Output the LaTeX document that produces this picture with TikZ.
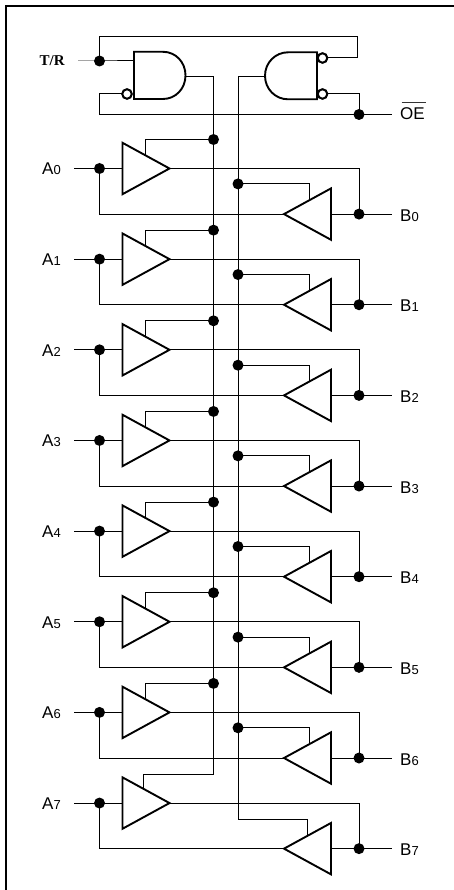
\documentclass[tikz,border=0pt]{standalone}
\usepackage{fontspec}
\setmainfont{Liberation Sans}
\newfontfamily\serifbold[BoldFont={Liberation Serif Bold}]{Liberation Serif}
\tikzset{
  wire/.style={line width=1pt,black,line join=miter},
  gateline/.style={line width=1.9pt,black,line join=miter},
  bordline/.style={line width=2.8pt,black},
  junction/.style={circle,fill=black,inner sep=0pt,minimum size=11pt},
  bubble/.style={circle,draw=black,fill=white,line width=1.9pt,inner sep=0pt,minimum size=9.4pt},
  lab/.style={anchor=base west,inner sep=0pt,font=\fontsize{17}{17}\selectfont},
}
\newcommand{\pinlabel}[2]{#1{\fontsize{13}{13}\selectfont #2}}
\begin{document}
\begin{tikzpicture}[x=1pt,y=-1pt]
\useasboundingbox (0,0) rectangle (454,890);
\draw[bordline] (6,890) -- (6,6) -- (454,6);

% control section
\coordinate (trin) at (78,61);
\node[junction] (trdot) at (99.5,61) {};
\coordinate (loopa) at (99.5,37);
\coordinate (loopb) at (357.5,37);
\node[junction] (oedot) at (359,114.5) {};
\coordinate (oeend) at (392,114.5);
\coordinate (oeleft) at (99.5,114.5);
\coordinate (ga) at (134,61);
\coordinate (gaout) at (185,77);
\coordinate (gbout) at (265,77);
\coordinate (ena) at (213.5,77);
\coordinate (enb) at (238,77);
\node[bubble] (bua) at (127,94) {};
\node[bubble] (bub) at (322.5,58) {};
\node[bubble] (buc) at (322.5,94) {};

\draw[wire] (trin) -- (trdot.center) -- (ga);
\draw[wire] (trdot.center) -- (loopa) -- (loopb) |- (bub.center);
\draw[wire] (bua.center) -| (oeleft) -- (oedot.center) -- (oeend);
\draw[wire] (buc.center) -| (oedot.center);
\draw[wire] (gaout) -- (ena);
\draw[wire] (gbout) -- (enb);

\draw[gateline,fill=white] (134,51.8) -- (163,51.8) .. controls (175.5,51.8) and (185.5,62) .. (185.5,75.4)
   .. controls (185.5,88.8) and (175.5,99) .. (163,99) -- (134,99) -- cycle;
\draw[gateline,fill=white] (317,52.3) -- (288,52.3) .. controls (275.5,52.3) and (265,62.5) .. (265,75.8)
   .. controls (265,89.1) and (275.5,99.3) .. (288,99.3) -- (317,99.3) -- cycle;
\node[bubble] at (bua) {};
\node[bubble] at (bub) {};
\node[bubble] at (buc) {};

\node[anchor=base west,inner sep=0pt,font=\serifbold\bfseries\fontsize{15}{15}\selectfont] (trlabel) at (39.5,66) {T/R};
\node[lab] (oelabel) at (400,120) {OE};
\coordinate (ola) at (401.7,102.3);
\coordinate (olb) at (425.7,102.3);
\draw[line width=0.9pt,black!80] (ola) -- (olb);

% channels
\foreach \i [evaluate=\i as \yy using {168.5+90.65*\i}] in {0,...,7}{
  \coordinate (Ain\i) at (74,\yy);
  \node[junction] (Adot\i) at (99.5,\yy) {};
  \coordinate (Ubase\i) at (122.5,\yy);
  \coordinate (Utip\i) at (169.5,\yy);
  \coordinate (Rcorner\i) at (359,\yy);
  \node[junction] (Bdot\i) at (359,\yy+45.6) {};
  \coordinate (Bout\i) at (392,\yy+45.6);
  \coordinate (Lbase\i) at (331,\yy+45.6);
  \coordinate (Ltip\i) at (284,\yy+45.6);
  \coordinate (Lcorner\i) at (99.5,\yy+45.6);
  \draw[wire] (Ain\i) -- (Adot\i.center) -- (Ubase\i);
  \draw[wire] (Utip\i) -- (Rcorner\i) -- (Bdot\i.center) -- (Bout\i);
  \draw[wire] (Lbase\i) -- (Bdot\i.center);
  \draw[wire] (Adot\i.center) -- (Lcorner\i) -- (Ltip\i);
  \node[lab] (Alabel\i) at (42,\yy+6.5) {\pinlabel{A}{\i}};
  \node[lab] (Blabel\i) at (400,\yy+52.6) {\pinlabel{B}{\i}};
}
% enable rails, tapped at each channel
\foreach \i [evaluate=\i as \yy using {168.5+90.65*\i}] in {0,...,6}{
  \node[junction] (Uen\i) at (213.5,\yy-29) {};
  \node[junction] (Len\i) at (238,\yy+15.4) {};
  \coordinate (Uedge\i) at (145,\yy-13.3);
  \coordinate (Ledge\i) at (309,\yy+45.6-13.8);
  \draw[wire] (Uen\i.center) -| (Uedge\i);
  \draw[wire] (Len\i.center) -| (Ledge\i);
}
\coordinate (Uen7) at (213.5,774);
\coordinate (Uedge7) at (143.5,789.5);
\coordinate (Len7) at (238,819);
\coordinate (Ledge7) at (307,835);
\draw[wire] (ena) -- (Uen7) -| (Uedge7);
\draw[wire] (enb) -- (Len7) -| (Ledge7);

\foreach \i [evaluate=\i as \yy using {168.5+90.65*\i}] in {0,...,7}{
  \draw[gateline,fill=white] (122.5,\yy-25.7) -- (Utip\i) -- (122.5,\yy+25.7) -- cycle;
  \draw[gateline,fill=white] (331,\yy+45.6-25.7) -- (Ltip\i) -- (331,\yy+45.6+25.7) -- cycle;
}
\end{tikzpicture}
\end{document}
